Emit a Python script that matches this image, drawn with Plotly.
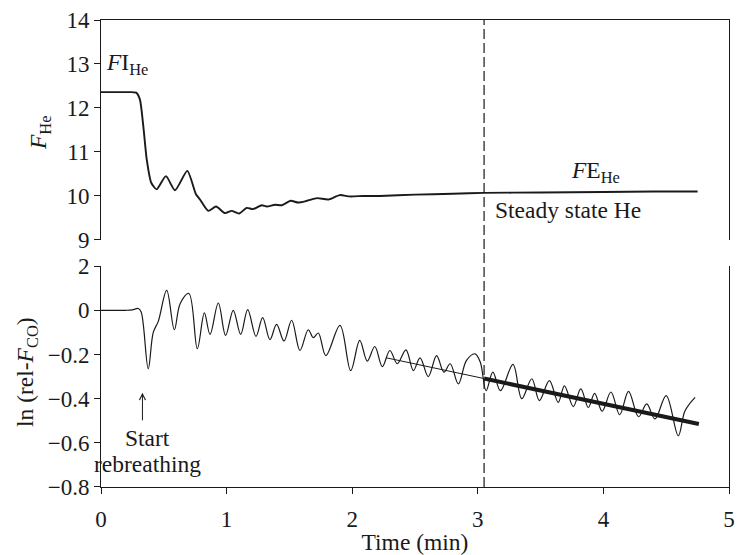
import plotly.graph_objects as go

# ---- data ----
he_time = [0.0, 0.10, 0.20, 0.28, 0.31, 0.337, 0.364, 0.40, 0.443, 0.517, 0.589, 0.687, 0.756,
           0.788, 0.854, 0.916, 0.987, 1.04, 1.10, 1.16, 1.21, 1.28, 1.32, 1.385, 1.44, 1.51,
           1.57, 1.64, 1.72, 1.81, 1.90, 1.98, 2.09, 2.22, 2.5, 2.8, 3.05, 3.5, 4.0, 4.4, 4.75]
he_frac = [12.36, 12.36, 12.36, 12.35, 12.19, 11.58, 10.83, 10.30, 10.15, 10.45, 10.13, 10.57, 10.04,
           9.92, 9.66, 9.76, 9.61, 9.66, 9.60, 9.73, 9.70, 9.79, 9.76, 9.80, 9.79, 9.89,
           9.85, 9.89, 9.95, 9.92, 10.02, 9.99, 10.00, 10.00, 10.03, 10.05, 10.07, 10.08, 10.09, 10.10, 10.10]

co_time = [0.0, 0.10, 0.20, 0.25, 0.297, 0.32, 0.376, 0.416, 0.456, 0.523, 0.584, 0.63, 0.70,
           0.767, 0.823, 0.868, 0.934, 0.992, 1.053, 1.112, 1.168, 1.234, 1.287, 1.345, 1.398,
           1.457, 1.518, 1.584, 1.65, 1.69, 1.73, 1.79, 1.903, 1.988, 2.06, 2.12, 2.18, 2.24,
           2.30, 2.359, 2.428, 2.487, 2.54, 2.606, 2.672, 2.73, 2.78, 2.845, 2.91, 2.978, 3.02,
           3.066, 3.12, 3.18, 3.28, 3.35, 3.43, 3.49, 3.57, 3.64, 3.69, 3.76, 3.82, 3.88, 3.93,
           3.99, 4.06, 4.13, 4.20, 4.28, 4.345, 4.41, 4.50, 4.596, 4.65, 4.73]
co_ln = [0.0, 0.0, 0.0, 0.002, 0.008, -0.008, -0.265, -0.10, -0.05, 0.09, -0.088, 0.03, 0.076,
         -0.174, -0.012, -0.109, 0.033, -0.114, 0.0, -0.109, 0.003, -0.118, -0.033, -0.133, -0.064,
         -0.139, -0.045, -0.182, -0.088, -0.124, -0.103, -0.205, -0.068, -0.273, -0.136, -0.23, -0.164, -0.255,
         -0.182, -0.242, -0.179, -0.273, -0.215, -0.30, -0.205, -0.28, -0.242, -0.333, -0.227, -0.197, -0.235,
         -0.364, -0.28, -0.364, -0.245, -0.40, -0.31, -0.409, -0.318, -0.417, -0.342, -0.436, -0.356, -0.44, -0.376,
         -0.457, -0.37, -0.473, -0.367, -0.482, -0.424, -0.492, -0.386, -0.568, -0.455, -0.394]

fit_thin_time = [2.27, 3.05]
fit_thin_ln = [-0.215, -0.309]
fit_thick_time = [3.05, 4.76]
fit_thick_ln = [-0.309, -0.515]

steady_time = 3.05

he_ticks = [9, 10, 11, 12, 13, 14]
co_tickvals = [0.2, 0, -0.2, -0.4, -0.6, -0.8]
co_ticktext = ["2", "0", "\u22120.2", "\u22120.4", "\u22120.6", "\u22120.8"]
x_ticks = [0, 1, 2, 3, 4, 5]

FONT = "Liberation Serif"
INK = "#1a1a1a"
TICK_SIZE = 23
TEXT_SIZE = 23.5

fig = go.Figure()
fig.add_trace(go.Scatter(x=he_time, y=he_frac, mode="lines", xaxis="x2", yaxis="y2",
                         line=dict(color=INK, width=1.9, shape="spline", smoothing=0.6),
                         showlegend=False, hoverinfo="skip"))
fig.add_trace(go.Scatter(x=co_time, y=co_ln, mode="lines", xaxis="x", yaxis="y",
                         line=dict(color=INK, width=1.2, shape="spline", smoothing=1.0),
                         showlegend=False, hoverinfo="skip"))
fig.add_trace(go.Scatter(x=fit_thin_time, y=fit_thin_ln, mode="lines", xaxis="x", yaxis="y",
                         line=dict(color=INK, width=1), showlegend=False, hoverinfo="skip"))
fig.add_trace(go.Scatter(x=fit_thick_time, y=fit_thick_ln, mode="lines", xaxis="x", yaxis="y",
                         line=dict(color=INK, width=4), showlegend=False, hoverinfo="skip"))

axis_common = dict(showgrid=False, zeroline=False, automargin=False, linecolor=INK, linewidth=1,
                   tickcolor=INK, ticklen=6, tickwidth=1,
                   tickfont=dict(family=FONT, size=TICK_SIZE, color=INK))

fig.update_layout(
    width=748, height=555,
    margin=dict(l=101, r=19, t=20, b=68, autoexpand=False),
    paper_bgcolor="white", plot_bgcolor="white",
    font=dict(family=FONT, size=TICK_SIZE, color=INK),
    xaxis=dict(range=[0, 5], tickvals=x_ticks, ticks="outside", showline=True,
               anchor="y", domain=[0, 1], ticklabelstandoff=5,
               title=dict(text="Time (min)", font=dict(family=FONT, size=TEXT_SIZE, color=INK), standoff=7),
               **axis_common),
    yaxis=dict(range=[-0.8, 0.2], tickvals=co_tickvals, ticktext=co_ticktext, ticks="outside",
               showline=True, mirror=True, anchor="x", domain=[0, 0.473], **axis_common),
    xaxis2=dict(range=[0, 5], matches="x", anchor="y2", side="top", showline=True,
                showticklabels=False, ticks="", **axis_common),
    yaxis2=dict(range=[9, 14], tickvals=he_ticks, ticks="outside", showline=True, mirror=True,
                anchor="x2", domain=[0.529, 1], **axis_common),
)

# steady state dashed line across both panels
fig.add_shape(type="line", xref="x", yref="paper", x0=steady_time, x1=steady_time, y0=0, y1=1,
              line=dict(color=INK, width=1.2, dash="10px,4px"))

tf = dict(family=FONT, size=TEXT_SIZE, color=INK)
ann = [
    dict(text="<i>F</i>I<sub>He</sub>", x=0.02, y=13.0, xref="x2", yref="y2",
         xanchor="left", yanchor="middle", showarrow=False, font=tf),
    dict(text="<i>F</i>E<sub>He</sub>", x=3.73, y=10.55, xref="x2", yref="y2",
         xanchor="left", yanchor="middle", showarrow=False, font=tf),
    dict(text="Steady state He", x=3.12, y=9.68, xref="x2", yref="y2",
         xanchor="left", yanchor="middle", showarrow=False, font=tf),
    dict(text="Start", x=0.37, y=-0.58, xref="x", yref="y",
         xanchor="center", yanchor="middle", showarrow=False, font=tf),
    dict(text="rebreathing", x=0.37, y=-0.695, xref="x", yref="y",
         xanchor="center", yanchor="middle", showarrow=False, font=tf),
    dict(text="", x=0.33, y=-0.373, ax=0.33, ay=-0.505, xref="x", yref="y", axref="x", ayref="y",
         showarrow=True, arrowhead=5, arrowsize=1.2, arrowwidth=1, arrowcolor=INK),
    dict(text="<i>F</i><sub>He</sub>", x=(40 - 101) / 628, y=(487 - 132) / 467, xref="paper", yref="paper",
         xanchor="center", yanchor="middle", showarrow=False, textangle=-90, font=tf),
    dict(text="ln (rel-<i>F</i><sub>CO</sub>)", x=(27 - 101) / 628, y=(487 - 372) / 467,
         xref="paper", yref="paper", xanchor="center", yanchor="middle", showarrow=False,
         textangle=-90, font=tf),
]
fig.update_layout(annotations=ann)

# remove the browser's default 8px body margin so the 748x555 figure fills the window exactly
fig.write_html("out.html", config={"displayModeBar": False},
               post_script="document.body.style.margin='0';")
